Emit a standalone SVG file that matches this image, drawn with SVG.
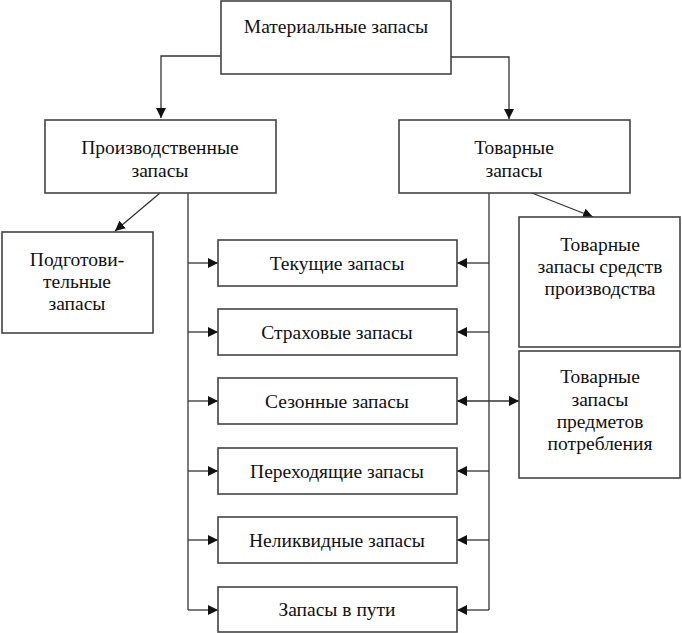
<svg xmlns="http://www.w3.org/2000/svg" width="682" height="633" viewBox="0 0 682 633">
<defs>
<marker id="ah" viewBox="0 0 10 10" refX="10" refY="5" markerWidth="10" markerHeight="10" markerUnits="userSpaceOnUse" orient="auto-start-reverse">
<path d="M0,0 L10,5 L0,10 z" fill="#111"/>
</marker>
<style>
.box{fill:#fff;stroke:#444;stroke-width:1.6}
.t{font-family:"Liberation Serif","Times New Roman",serif;font-size:19.5px;fill:#111;text-anchor:middle}
.c{fill:none;stroke:#333;stroke-width:1.3}
</style>
</defs>
<rect width="682" height="633" fill="#fff"/>
<g id="connectors">
<path class="c" d="M221,56 H161 V118" marker-end="url(#ah)"/>
<path class="c" d="M451,57 H509 V119" marker-end="url(#ah)"/>
<path class="c" d="M160,193 L115,231" marker-end="url(#ah)"/>
<path class="c" d="M532,193 L593,217" marker-end="url(#ah)"/>
<path class="c" d="M188,193 V610"/>
<path class="c" d="M489,193 V610"/>
<path class="c" d="M188,263 H218" marker-end="url(#ah)"/>
<path class="c" d="M188,332 H218" marker-end="url(#ah)"/>
<path class="c" d="M188,401 H218" marker-end="url(#ah)"/>
<path class="c" d="M188,471 H218" marker-end="url(#ah)"/>
<path class="c" d="M188,540 H218" marker-end="url(#ah)"/>
<path class="c" d="M188,610 H218" marker-end="url(#ah)"/>
<path class="c" d="M489,263 H457" marker-end="url(#ah)"/>
<path class="c" d="M489,332 H457" marker-end="url(#ah)"/>
<path class="c" d="M457,401 H519" marker-start="url(#ah)" marker-end="url(#ah)"/>
<path class="c" d="M489,471 H457" marker-end="url(#ah)"/>
<path class="c" d="M489,540 H457" marker-end="url(#ah)"/>
<path class="c" d="M489,610 H457" marker-end="url(#ah)"/>
</g>
<g id="n-materialnye">
<rect class="box" x="221" y="1" width="230" height="73"/>
<text class="t" x="336" y="33">Материальные запасы</text>
</g>
<g id="n-proizv">
<rect class="box" x="45" y="120" width="231" height="73"/>
<text class="t" x="160" y="154">Производственные</text>
<text class="t" x="160" y="177">запасы</text>
</g>
<g id="n-tovarnye">
<rect class="box" x="399" y="120" width="231" height="73"/>
<text class="t" x="514" y="154">Товарные</text>
<text class="t" x="514" y="177">запасы</text>
</g>
<g id="n-podgot">
<rect class="box" x="2" y="232" width="151" height="101"/>
<text class="t" x="77" y="266">Подготови-</text>
<text class="t" x="77" y="288">тельные</text>
<text class="t" x="77" y="310">запасы</text>
</g>
<g id="n-tekushchie">
<rect class="box" x="218" y="240" width="239" height="46"/>
<text class="t" x="337" y="270">Текущие запасы</text>
</g>
<g id="n-strakhovye">
<rect class="box" x="218" y="309" width="239" height="46"/>
<text class="t" x="337" y="339">Страховые запасы</text>
</g>
<g id="n-sezonnye">
<rect class="box" x="218" y="378" width="239" height="46"/>
<text class="t" x="337" y="408">Сезонные запасы</text>
</g>
<g id="n-perekhodyashchie">
<rect class="box" x="218" y="448" width="239" height="46"/>
<text class="t" x="337" y="478">Переходящие запасы</text>
</g>
<g id="n-nelikvidnye">
<rect class="box" x="218" y="517" width="239" height="46"/>
<text class="t" x="337" y="547">Неликвидные запасы</text>
</g>
<g id="n-v-puti">
<rect class="box" x="218" y="587" width="239" height="45"/>
<text class="t" x="337" y="616">Запасы в пути</text>
</g>
<g id="n-sredstv">
<rect class="box" x="519" y="217" width="161" height="130"/>
<text class="t" x="600" y="251">Товарные</text>
<text class="t" x="600" y="273">запасы средств</text>
<text class="t" x="600" y="295">производства</text>
</g>
<g id="n-predmetov">
<rect class="box" x="519" y="351" width="161" height="127"/>
<text class="t" x="600" y="383">Товарные</text>
<text class="t" x="600" y="406">запасы</text>
<text class="t" x="600" y="428">предметов</text>
<text class="t" x="600" y="450">потребления</text>
</g>
</svg>
